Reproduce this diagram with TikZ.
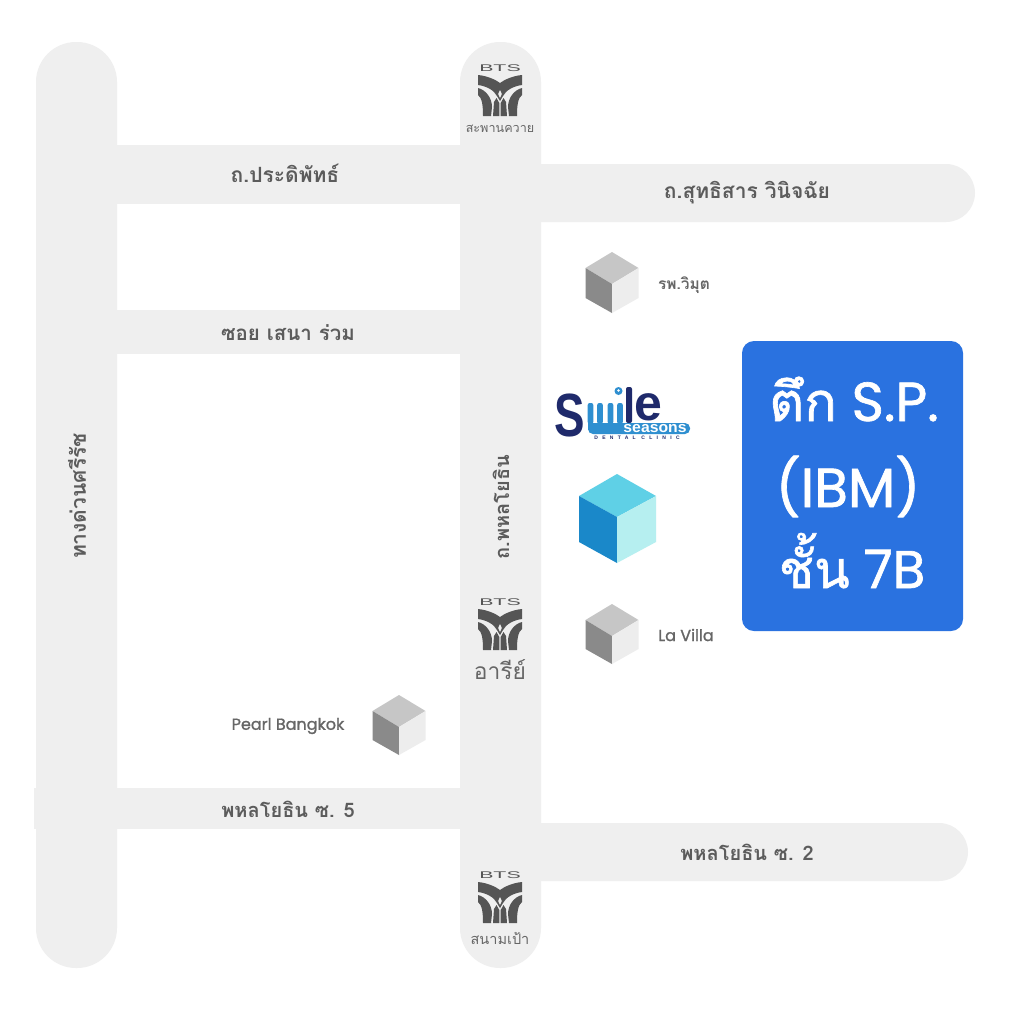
\documentclass[tikz,border=0pt]{standalone}
\usepackage{fontspec}
\setmainfont{Poppins}
\newfontfamily\thf[Script=Thai]{Loma}
\newfontfamily\thb[Script=Thai,FakeBold=1.2]{Loma}
\newfontfamily\popm[FakeBold=1.2]{Poppins}
\newfontfamily\lib{Liberation Sans}
\newfontfamily\spaced[LetterSpace=86]{Liberation Sans}
\definecolor{road}{HTML}{EFEFEF}
\definecolor{lab}{HTML}{5C5C5C}
\definecolor{sta}{HTML}{555555}
\definecolor{stat}{HTML}{666666}
\definecolor{navy}{HTML}{1F2A6B}
\definecolor{sky}{HTML}{2F8FD0}
\definecolor{gtop}{HTML}{C6C6C6}
\definecolor{gleft}{HTML}{8A8A8A}
\definecolor{gright}{HTML}{EDEDED}
\definecolor{btop}{HTML}{5FD0E6}
\definecolor{bleft}{HTML}{1A88C9}
\definecolor{bright}{HTML}{B6EFF0}
\definecolor{boxblue}{HTML}{2A72E0}
\tikzset{
  roadlab/.style={text=lab,font=\thf\bfseries\fontsize{20.5}{20.5}\selectfont,inner sep=0pt},
  vroadlab/.style={text=lab,rotate=90,inner sep=0pt},
  placelab/.style={text=stat,font=\popm\fontsize{16}{16}\selectfont,inner sep=0pt},
  bigt/.style={text=white,inner sep=0pt,anchor=base,font=\popm\fontsize{55}{55}\selectfont},
  stalab/.style={text=stat,font=\thf,inner sep=0pt},
}
\newcommand{\greycube}[3]{% cx, top y, height
  \fill[gtop] (#1,#2) -- (#1+26.5,#2+16) -- (#1,#2+32) -- (#1-26.5,#2+16) -- cycle;
  \fill[gleft] (#1-26.5,#2+16) -- (#1,#2+32) -- (#1,#2+#3) -- (#1-26.5,#2+#3-15) -- cycle;
  \fill[gright] (#1+26.5,#2+16) -- (#1,#2+32) -- (#1,#2+#3) -- (#1+26.5,#2+#3-15) -- cycle;
}
\newcommand{\bts}[2]{% cx, top y of the mark
  \begin{scope}[shift={(#1,#2)}]
    \node[text=sta,inner sep=0pt,xscale=2.2,font=\lib\fontsize{9.7}{9.7}\selectfont] at (0,3.5) {BTS};
    \foreach \s in {-1,1}{
      \begin{scope}[xscale=\s]
        \fill[sta] (22,10) .. controls (12,11) and (4,15) .. (0,18) -- (0,36) -- (3,31) .. controls (6,25) and (14,21) .. (22,20) -- cycle;
        \fill[sta] (22,23) .. controls (14,25) and (8,33) .. (8,42) -- (9,51) -- (17,51) .. controls (17,40) and (18,33) .. (22,30) -- cycle;
        \fill[sta] (0.7,38) -- (3.5,33) -- (6,37) -- (7,51) -- (0.7,51) -- cycle;
      \end{scope}
    }
    \fill[road] (0,25) -- (1.8,29) -- (0,33) -- (-1.8,29) -- cycle;
  \end{scope}
}
\begin{document}
\begin{tikzpicture}[x=1pt,y=-1pt]
\useasboundingbox (0,0) rectangle (1010,1010);
\fill[white] (0,0) rectangle (1010,1010);
% roads
\fill[road,rounded corners=40pt] (36,42) rectangle (117,968);
\fill[road,rounded corners=40pt] (460,42) rectangle (541,968);
\fill[road] (110,145) rectangle (470,204);
\fill[road,rounded corners=29pt] (500,164) rectangle (975,222);
\fill[road] (110,310) rectangle (470,354);
\fill[road] (34,788) rectangle (470,829);
\fill[road,rounded corners=29pt] (500,823) rectangle (968,881);
% road labels
\node[roadlab,font=\thf\bfseries\fontsize{21}{21}\selectfont] (n1) at (285,173.5) {ถ.ประดิพัทธ์};
\node[roadlab,font=\thf\bfseries\fontsize{21}{21}\selectfont] (n2) at (747,193) {ถ.สุทธิสาร วินิจฉัย};
\node[roadlab] (n3) at (288,333) {ซอย เสนา ร่วม};
\node[roadlab,font=\thf\bfseries\fontsize{20}{20}\selectfont] (n4) at (288,809) {พหลโยธิน ซ. 5};
\node[roadlab,font=\thf\bfseries\fontsize{20}{20}\selectfont] (n5) at (747,852) {พหลโยธิน ซ. 2};
\node[vroadlab,font=\thf\bfseries\fontsize{20}{20}\selectfont] (n6) at (501,507) {ถ.พหลโยธิน};
\node[vroadlab,font=\thf\bfseries\fontsize{21}{21}\selectfont] (n7) at (77,496) {ทางด่วนศรีรัช};
% stations
\bts{500}{65}
\bts{500}{599}
\bts{500}{872}
\node[stalab,font=\thf\fontsize{12.6}{12.6}\selectfont] (s1) at (500,129) {สะพานควาย};
\node[stalab,font=\thf\fontsize{22.8}{22.8}\selectfont] (s2) at (500,670) {อารีย์};
\node[stalab,font=\thf\fontsize{14.5}{14.5}\selectfont] (s3) at (500,938) {สนามเป้า};
% grey cubes
\greycube{612}{252}{61}
\greycube{612}{604}{60}
\greycube{399}{695}{60}
\node[placelab,font=\thf\bfseries\fontsize{15.5}{15.5}\selectfont] (p1) at (684,285) {รพ.วิมุต};
\node[placelab] (p2) at (686,635) {La Villa};
\node[placelab] (p3) at (288,726) {Pearl Bangkok};
% blue cube
\fill[btop] (617,474) -- (656,496) -- (617,517) -- (579,496) -- cycle;
\fill[bleft] (579,496) -- (617,517) -- (617,563) -- (579,542) -- cycle;
\fill[bright] (656,496) -- (617,517) -- (617,563) -- (656,542) -- cycle;
% logo
\node[text=navy,inner sep=0pt,xscale=0.75,font=\lib\bfseries\fontsize{61}{61}\selectfont] (lS) at (570,415) {S};
\foreach \x in {590.5,600,610.5,620}{\fill[sky,rounded corners=2pt] (\x-2.8,403) rectangle (\x+2.8,424);}
\fill[sky] (618.5,391) circle (4);
\fill[white] (618.5,390.5) circle (1.3);
\fill[navy,rounded corners=2pt] (626,387) rectangle (632,423);
\node[text=navy,inner sep=0pt,font=\lib\bfseries\fontsize{50}{50}\selectfont] (le) at (648.5,407.5) {e};
\fill[sky,rounded corners=5pt] (588,423) rectangle (690,434);
\fill[sky] (588,423) rectangle (600,430);
\node[text=white,inner sep=0pt,xscale=1.05,font=\lib\bfseries\fontsize{15}{15}\selectfont] (sea) at (655,429) {seasons};
\node[text=navy,inner sep=0pt,font=\spaced\bfseries\fontsize{5}{5}\selectfont] (den) at (637,438) {DENTAL CLINIC};
% building box
\fill[boxblue,rounded corners=12pt] (742,341) rectangle (963,631);
\node[bigt] (b1) at (854,421) {{\thb\fontsize{54}{54}\selectfont ตึก} S.P.};
\node[bigt] (b2) at (848,507) {(IBM)};
\node[bigt,font=\popm\fontsize{53}{53}\selectfont] (b3) at (852,588) {{\thb\fontsize{52}{52}\selectfont ชั้น} 7B};
\end{tikzpicture}
\end{document}
